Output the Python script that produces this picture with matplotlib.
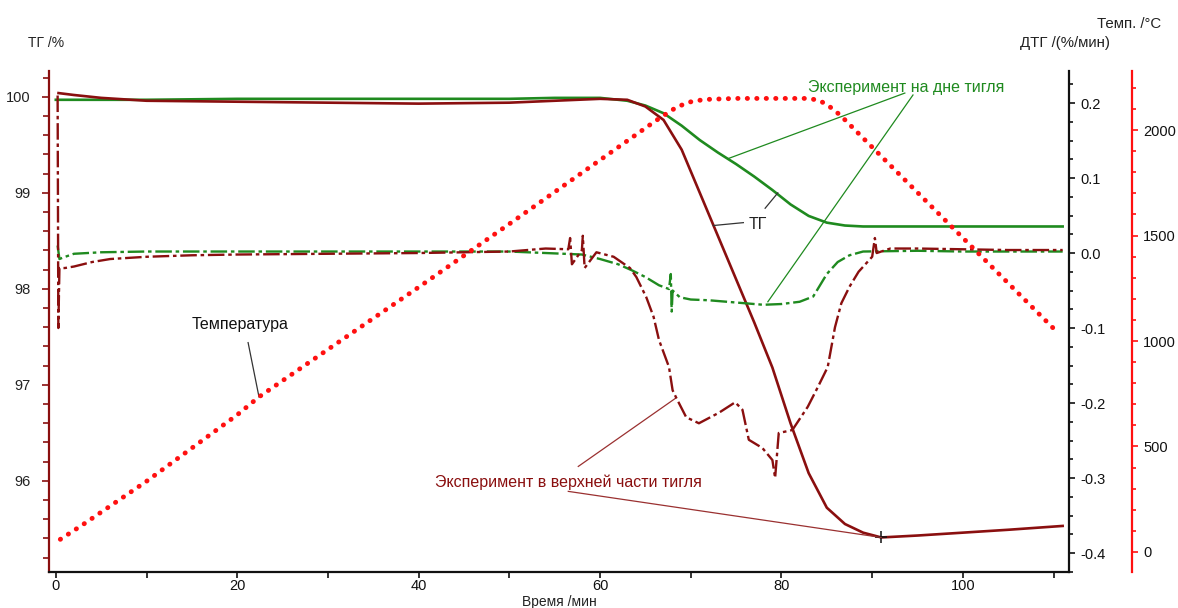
import matplotlib
matplotlib.use("Agg")
import matplotlib.pyplot as plt
from matplotlib.ticker import MultipleLocator, FormatStrFormatter

plt.rcParams['font.family'] = ['Liberation Sans', 'DejaVu Sans']

# ---- data -------------------------------------------------------------
# furnace temperature programme, °C
temp_time = [0.5, 3, 10, 20, 22.4, 30, 40, 50, 60, 63.6, 66, 67.4, 68.5, 69.9,
             71.5, 75, 80, 83, 84.2, 85.2, 86.5, 90, 95, 100, 105, 110.5]
temp_val = [60, 130, 335, 650, 735, 960, 1255, 1555, 1858, 1967, 2040, 2080,
            2110, 2133, 2145, 2150, 2150, 2150, 2140, 2115, 2070, 1919, 1704,
            1489, 1274, 1038]

# TG, sample at the bottom of the crucible (green)
tg_bottom_time = [0, 10, 20, 30, 40, 50, 55, 60, 63, 65, 67, 69, 71, 73, 75, 77,
                  79, 81, 83, 85, 87, 89, 92, 100, 111]
tg_bottom_val = [99.97, 99.97, 99.98, 99.98, 99.98, 99.98, 99.99, 99.99, 99.96,
                 99.91, 99.83, 99.70, 99.55, 99.42, 99.30, 99.17, 99.03, 98.88,
                 98.76, 98.69, 98.66, 98.65, 98.65, 98.65, 98.65]

# TG, sample in the upper part of the crucible (dark red)
tg_top_time = [0.3, 2, 5, 10, 20, 30, 40, 50, 55, 60, 63, 65, 67, 69, 71, 73,
               75, 77, 79, 81, 83, 85, 87, 89, 91, 95, 100, 105, 111]
tg_top_val = [100.04, 100.02, 99.99, 99.96, 99.95, 99.94, 99.93, 99.94, 99.96,
              99.98, 99.97, 99.90, 99.76, 99.45, 99.00, 98.55, 98.10, 97.65,
              97.18, 96.60, 96.08, 95.72, 95.55, 95.46, 95.41, 95.43, 95.46,
              95.49, 95.53]
tg_min_time, tg_min_val = 91, 95.41

# DTG, bottom of the crucible (green)
dtg_bottom_time = [0.2, 0.4, 0.8, 2, 5, 10, 20, 30, 40, 50, 54, 58, 60, 62,
                   63.5, 65, 66.5, 67.6, 67.8, 67.9, 68.0, 68.8, 70, 72, 74,
                   76, 78, 80, 82, 83.5, 85, 86.2, 87.5, 89, 95, 100, 105, 111]
dtg_bottom_val = [0.010, -0.008, -0.006, -0.001, 0.001, 0.002, 0.002, 0.002,
                  0.002, 0.002, 0.0, -0.002, -0.008, -0.015, -0.023, -0.032,
                  -0.043, -0.048, -0.028, -0.078, -0.050, -0.059, -0.062,
                  -0.063, -0.065, -0.067, -0.069, -0.068, -0.065, -0.058,
                  -0.028, -0.012, -0.003, 0.002, 0.003, 0.002, 0.002, 0.002]

# DTG, upper part of the crucible (dark red)
dtg_top_time = [0.2, 0.28, 0.4, 1, 2, 4, 6, 10, 15, 20, 30, 40, 50, 54, 56.5,
                56.7, 56.9, 58, 58.1, 58.3, 59.6, 61.5, 63.3, 64, 65.1, 65.9,
                66.5, 67.6, 68.0, 68.4, 69.5, 70.9, 72, 73.1, 74.9, 75.7, 76.4,
                77.9, 79, 79.3, 79.7, 81.2, 82.9, 84, 85.1, 85.9, 86.6, 87.5,
                88.5, 90, 90.3, 90.5, 92, 95, 100, 105, 111]
dtg_top_val = [0.21, -0.10, -0.02, -0.02, -0.018, -0.012, -0.008, -0.005,
               -0.003, -0.002, -0.001, 0.0, 0.002, 0.006, 0.005, 0.020, -0.015,
               0.004, 0.023, -0.020, 0.001, -0.005, -0.020, -0.032, -0.059,
               -0.085, -0.116, -0.152, -0.183, -0.193, -0.219, -0.227, -0.220,
               -0.213, -0.199, -0.209, -0.249, -0.260, -0.276, -0.300, -0.240,
               -0.236, -0.205, -0.179, -0.152, -0.099, -0.067, -0.045, -0.025,
               -0.005, 0.020, 0.0, 0.006, 0.006, 0.005, 0.004, 0.004]

# ---- styling ----------------------------------------------------------
DARK_RED = '#8a0f0f'
GREEN = '#1f8a1f'
RED = '#ff1010'
TICK_FS = 10.5

fig = plt.figure(figsize=(11.78, 6.08), dpi=100)
W, H = 1178, 608
left_px, right_px, top_px, bottom_px = 49, 1069, 71, 572
ax = fig.add_axes([left_px / W, (H - bottom_px) / H,
                   (right_px - left_px) / W, (bottom_px - top_px) / H])
ax_dtg = ax.twinx()
ax_t = ax.twinx()

ax.set_xlim(-0.75, 111.7)
ax.set_ylim(95.05, 100.27)
ax_dtg.set_ylim(-0.4253, 0.2427)
ax_t.set_ylim(-95, 2280)

# spines
for a in (ax, ax_dtg, ax_t):
    a.spines['top'].set_visible(False)
    a.patch.set_visible(False)
ax.spines['right'].set_visible(False)
ax.spines['left'].set_color(DARK_RED)
ax.spines['left'].set_linewidth(1.6)
ax.spines['bottom'].set_color('#111111')
ax.spines['bottom'].set_linewidth(1.6)
ax_dtg.spines['left'].set_visible(False)
ax_dtg.spines['bottom'].set_visible(False)
ax_dtg.spines['right'].set_color('#111111')
ax_dtg.spines['right'].set_linewidth(1.6)
ax_t.spines['left'].set_visible(False)
ax_t.spines['bottom'].set_visible(False)
ax_t.spines['right'].set_position(('axes', 1 + 63 / (right_px - left_px)))
ax_t.spines['right'].set_color(RED)
ax_t.spines['right'].set_linewidth(1.6)

# ticks
ax.xaxis.set_major_locator(MultipleLocator(20))
ax.xaxis.set_minor_locator(MultipleLocator(10))
ax.yaxis.set_major_locator(MultipleLocator(1))
ax.yaxis.set_minor_locator(MultipleLocator(0.2))
ax.yaxis.set_major_formatter(FormatStrFormatter('%d'))
ax.tick_params(axis='y', which='both', colors=DARK_RED, labelcolor='#222222',
               labelsize=TICK_FS, direction='out', width=1.2, pad=8)
ax.tick_params(axis='y', which='major', length=5)
ax.tick_params(axis='y', which='minor', length=4)
ax.tick_params(axis='x', which='both', colors='#111111', labelsize=TICK_FS,
               direction='out', width=1.2, pad=1)
ax.tick_params(axis='x', which='major', length=4)
ax.tick_params(axis='x', which='minor', length=4)

ax_dtg.yaxis.set_major_locator(MultipleLocator(0.1))
ax_dtg.yaxis.set_minor_locator(MultipleLocator(0.025))
ax_dtg.yaxis.set_major_formatter(FormatStrFormatter('%.1f'))
ax_dtg.tick_params(axis='y', which='both', colors='#111111', labelsize=TICK_FS,
                   direction='out', width=1.2, pad=4)
ax_dtg.tick_params(axis='y', which='major', length=4)
ax_dtg.tick_params(axis='y', which='minor', length=3)

ax_t.yaxis.set_major_locator(MultipleLocator(500))
ax_t.yaxis.set_minor_locator(MultipleLocator(100))
ax_t.tick_params(axis='y', which='both', colors=RED, labelcolor='#111111',
                 labelsize=TICK_FS, direction='out', width=1.2, pad=4)
ax_t.tick_params(axis='y', which='major', length=4)
ax_t.tick_params(axis='y', which='minor', length=3)

# ---- curves -----------------------------------------------------------
ax_t.plot(temp_time, temp_val, color=RED, lw=3.5,
          linestyle=(0, (0.05, 1.9)), dash_capstyle='round', zorder=2)

ax.plot(tg_bottom_time, tg_bottom_val, color=GREEN, lw=1.9, zorder=3)
ax.plot(tg_top_time, tg_top_val, color=DARK_RED, lw=1.9, zorder=3)
ax.plot([tg_min_time], [tg_min_val], marker='+', color='#111111', ms=9,
        mew=1.1, zorder=4)

dtg_style = dict(lw=1.7, linestyle=(0, (7, 1.6, 1.5, 1.6)))
ax_dtg.plot(dtg_bottom_time, dtg_bottom_val, color=GREEN, zorder=3, **dtg_style)
ax_dtg.plot(dtg_top_time, dtg_top_val, color=DARK_RED, zorder=3, **dtg_style)

# ---- labels -----------------------------------------------------------
fig.text(28 / W, 1 - 43 / H, 'ТГ /%', fontsize=10, color='#222222',
         ha='left', va='center')
fig.text(1020 / W, 1 - 43 / H, 'ДТГ /(%/мин)', fontsize=10.8, color='#222222',
         ha='left', va='center')
fig.text(1097 / W, 1 - 24 / H, 'Темп. /°C', fontsize=10.8, color='#222222',
         ha='left', va='center')
fig.text(559 / W, 1 - 602 / H, 'Время /мин', fontsize=10, color='#222222',
         ha='center', va='center')

# ---- annotations --------------------------------------------------------
ANN_FS = 11.5


def leader(axis, x0, y0, x1, y1, color):
    axis.plot([x0, x1], [y0, y1], color=color, lw=0.9, zorder=5)


def to_tg(axis, x, y):
    """Convert a point of a twin axis into TG units of the host axis."""
    return ax.transData.inverted().transform(axis.transData.transform((x, y)))[1]


ax.text(93.7, 100.10, 'Эксперимент на дне тигля', color=GREEN,
        fontsize=ANN_FS, ha='center', va='center', zorder=6)
leader(ax, 93.6, 100.04, 74.2, 99.36, GREEN)
leader(ax, 94.5, 100.02, 78.5, to_tg(ax_dtg, 78.5, -0.065), GREEN)

ax.text(77.4, 98.67, 'ТГ', color='#222222', fontsize=ANN_FS,
        ha='center', va='center', zorder=6)
leader(ax, 75.8, 98.69, 72.5, 98.66, '#333333')
leader(ax, 78.2, 98.84, 79.6, 99.0, '#333333')

ax.text(20.3, 97.625, 'Температура', color='#111111', fontsize=ANN_FS,
        ha='center', va='center', zorder=6)
leader(ax, 21.2, 97.44, 22.4, to_tg(ax_t, 22.4, 735), '#333333')

ax.text(56.5, 95.98, 'Эксперимент в верхней части тигля', color=DARK_RED,
        fontsize=ANN_FS, ha='center', va='center', zorder=6)
leader(ax, 57.6, 96.15, 68.4, to_tg(ax_dtg, 68.4, -0.193), '#9a3030')
leader(ax, 56.5, 95.89, tg_min_time, tg_min_val, '#9a3030')

fig.savefig('out.png', dpi=100, facecolor='white')
